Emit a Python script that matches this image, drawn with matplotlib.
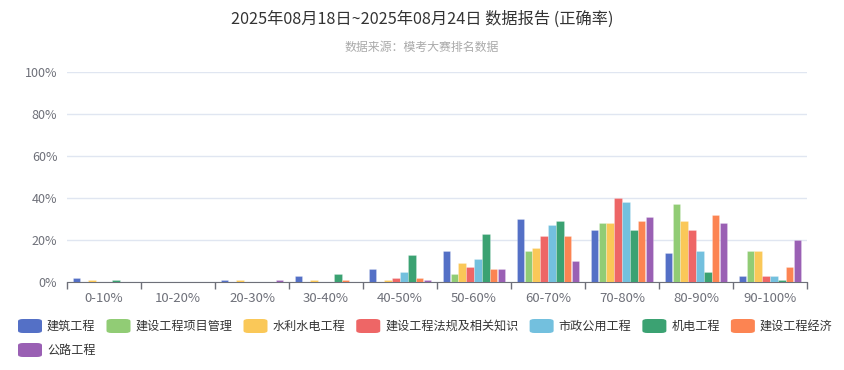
import matplotlib.pyplot as plt
from matplotlib.patches import FancyBboxPatch
import numpy as np

plt.rcParams['font.family'] = ['Noto Sans CJK SC', 'DejaVu Sans']

# accuracy buckets and share of candidates (%) per subject
buckets = ['0-10%', '10-20%', '20-30%', '30-40%', '40-50%',
           '50-60%', '60-70%', '70-80%', '80-90%', '90-100%']
subjects = ['建筑工程', '建设工程项目管理', '水利水电工程', '建设工程法规及相关知识',
            '市政公用工程', '机电工程', '建设工程经济', '公路工程']
jianzhu = [2, 0, 1, 3, 6, 15, 30, 25, 14, 3]
xiangmu = [0, 0, 0, 0, 0, 4, 15, 28, 37, 15]
shuili = [1, 0, 1, 1, 1, 9, 16, 28, 29, 15]
fagui = [0, 0, 0, 0, 2, 7, 22, 40, 25, 3]
shizheng = [0, 0, 0, 0, 5, 11, 27, 38, 15, 3]
jidian = [1, 0, 0, 4, 13, 23, 29, 25, 5, 1]
jingji = [0, 0, 0, 1, 2, 6, 22, 29, 32, 7]
gonglu = [0, 0, 1, 0, 1, 6, 10, 31, 28, 20]
series = [jianzhu, xiangmu, shuili, fagui, shizheng, jidian, jingji, gonglu]
colors = ['#5470c6', '#91cc75', '#fac858', '#ee6666',
          '#73c0de', '#3ba272', '#fc8452', '#9a60b4']

fig = plt.figure(figsize=(8.44, 3.70), dpi=100)
ax = fig.add_axes([67 / 844, 1 - 282 / 370, 740 / 844, 210 / 370])

x = np.arange(len(buckets))
step = 0.108
width = 0.095
for i, (vals, c) in enumerate(zip(series, colors)):
    ax.bar(x + (i - 3.5) * step, vals, width=width, color=c,
           edgecolor=(1, 1, 1, 0.3), linewidth=0.5, zorder=3)

ax.set_xlim(-0.5, len(buckets) - 0.5)
ax.set_ylim(0, 100)
ax.set_yticks(range(0, 101, 20))
ax.set_yticklabels([f'{v}%' for v in range(0, 101, 20)])
ax.grid(axis='y', color='#e0e6f1', linewidth=1, zorder=0)
ax.tick_params(axis='y', length=0, pad=7, labelsize=9, labelcolor='#6e7079')

ax.set_xticks(np.arange(-0.5, len(buckets), 1))
ax.set_xticklabels([])
ax.set_xticks(x, minor=True)
ax.set_xticklabels(buckets, minor=True)
ax.tick_params(axis='x', which='major', length=5, color='#6e7079', width=1)
ax.tick_params(axis='x', which='minor', length=0, pad=7, labelsize=9.5,
               labelcolor='#6e7079')

for s in ['top', 'right', 'left']:
    ax.spines[s].set_visible(False)
ax.spines['bottom'].set_color('#6e7079')

fig.text(0.5, 1 - 19 / 370, '2025年08月18日~2025年08月24日 数据报告 (正确率)',
         ha='center', va='center', fontsize=11.7, color='#333333')
fig.text(0.5, 1 - 47 / 370, '数据来源：模考大赛排名数据',
         ha='center', va='center', fontsize=8.6, color='#aaaaaa')

# legend, left aligned and wrapping like the original
fig.canvas.draw()
renderer = fig.canvas.get_renderer()
px, py = 18, 326
for name, c in zip(subjects, colors):
    t = fig.text(0, 0, name, fontsize=8.7, color='#333333', va='center')
    tw = t.get_window_extent(renderer).width
    if px + 29 + tw > 844:
        px, py = 18, py + 24
    box = FancyBboxPatch((px / 844, 1 - (py + 7) / 370), 24 / 844, 14 / 370,
                         boxstyle='round,pad=0,rounding_size=0.006',
                         transform=fig.transFigure, facecolor=c, edgecolor='none')
    fig.patches.append(box)
    t.set_position(((px + 29) / 844, 1 - py / 370))
    px += 29 + tw + 11

fig.savefig('out.png', dpi=100)
